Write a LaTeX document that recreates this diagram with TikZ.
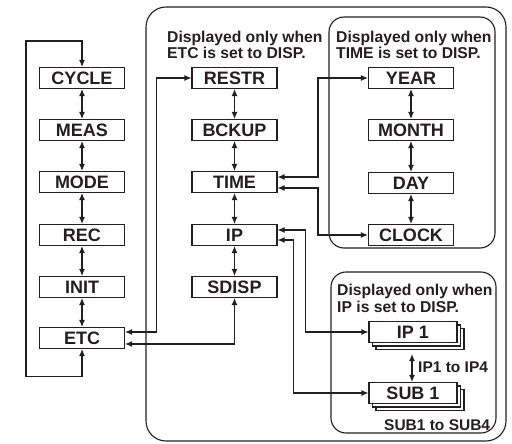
\documentclass[tikz,border=0pt]{standalone}
\usepackage{fontspec}
\setmainfont{Liberation Sans}
\usetikzlibrary{arrows.meta,shadows}
\definecolor{ink}{HTML}{231F20}
\tikzset{
  box/.style={draw=ink, fill=white, line width=1.1pt, minimum width=85pt, minimum height=21pt, inner sep=0pt,
    font=\fontsize{18}{18}\selectfont\bfseries, text=ink},
  stackbox/.style={box, minimum width=88pt, double copy shadow={shadow xshift=3.5pt, shadow yshift=-3.5pt}},
  conn/.style={draw=ink, line width=1.1pt},
  dbl/.style={conn, {Latex[length=7pt,width=6pt]}-{Latex[length=7pt,width=6pt]}},
  frame/.style={draw=ink, line width=1.1pt},
  heading/.style={anchor=west, align=left, inner sep=0pt, text=ink,
    font=\fontsize{15.7}{16.5}\selectfont\bfseries},
  note/.style={anchor=west, inner sep=0pt, text=ink, font=\fontsize{15.5}{16}\selectfont\bfseries}
}
\begin{document}
\begin{tikzpicture}[x=1pt,y=-1pt]
\useasboundingbox (0,0) rectangle (512,444);
% frames
\draw[frame, rounded corners=20pt] (146,7) rectangle (506,441);
\draw[frame, rounded corners=15pt] (329,17) rectangle (495,248);
\draw[frame, rounded corners=15pt] (331,272) rectangle (496,433);
% headings
\node[heading] (h1) at (167,45) {Displayed only when\\ETC is set to DISP.};
\node[heading] (h2) at (336,45) {Displayed only when\\TIME is set to DISP.};
\node[heading] (h3) at (337,298.5) {Displayed only when\\IP is set to DISP.};
% left column
\node[box] (cycle) at (82,78) {CYCLE};
\node[box] (meas) at (82,130) {MEAS};
\node[box] (mode) at (82,182) {MODE};
\node[box] (rec) at (82,235) {REC};
\node[box] (init) at (82,287) {INIT};
\node[box] (etc) at (82,338) {ETC};
% middle column
\node[box] (restr) at (234.5,78) {RESTR};
\node[box] (bckup) at (234.5,130) {BCKUP};
\node[box] (time) at (234.5,182) {TIME};
\node[box] (ip) at (234.5,235) {IP};
\node[box] (sdisp) at (234.5,287) {SDISP};
% right column
\node[box] (year) at (411,78) {YEAR};
\node[box] (month) at (411,130) {MONTH};
\node[box] (day) at (411,183) {DAY};
\node[box] (clock) at (411,235) {CLOCK};
% IP stack
\node[stackbox] (ip1) at (413,332) {IP 1};
\node[stackbox] (sub1) at (413,393) {SUB 1};
\node[note] (n1) at (418,367) {IP1 to IP4};
\node[note] (n2) at (384,425) {SUB1 to SUB4};
% chains
\draw[dbl] (cycle) -- (meas);
\draw[dbl] (meas) -- (mode);
\draw[dbl] (mode) -- (rec);
\draw[dbl] (rec) -- (init);
\draw[dbl] (init) -- (etc);
\draw[dbl] (restr) -- (bckup);
\draw[dbl] (bckup) -- (time);
\draw[dbl] (time) -- (ip);
\draw[dbl] (ip) -- (sdisp);
\draw[dbl] (year) -- (month);
\draw[dbl] (month) -- (day);
\draw[dbl] (day) -- (clock);
\draw[dbl] ([xshift=-1pt,yshift=-11pt]ip1.south) -- ([xshift=-1pt]sub1.north);
% loop
\draw[dbl] (etc.south) -- ++(0,27) -| (26,41) -| (cycle.north);
% ETC links
\draw[dbl] ([yshift=6pt]etc.east) -| ([xshift=-35pt]restr.west) -- (restr.west);
\draw[dbl] ([yshift=-6pt]etc.east) -| (sdisp.south);
% TIME links
\draw[dbl] ([yshift=5pt]time.east) -| ([xshift=-50pt]year.west) -- (year.west);
\draw[dbl] ([yshift=-6pt]time.east) -| ([xshift=-50pt]clock.west) -- (clock.west);
% IP links
\draw[dbl] ([yshift=5pt]ip.east) -| ([xshift=-63pt]ip1.west) -- (ip1.west);
\draw[dbl] ([yshift=-5pt]ip.east) -| ([xshift=-75pt]sub1.west) -- (sub1.west);
\end{tikzpicture}
\end{document}
